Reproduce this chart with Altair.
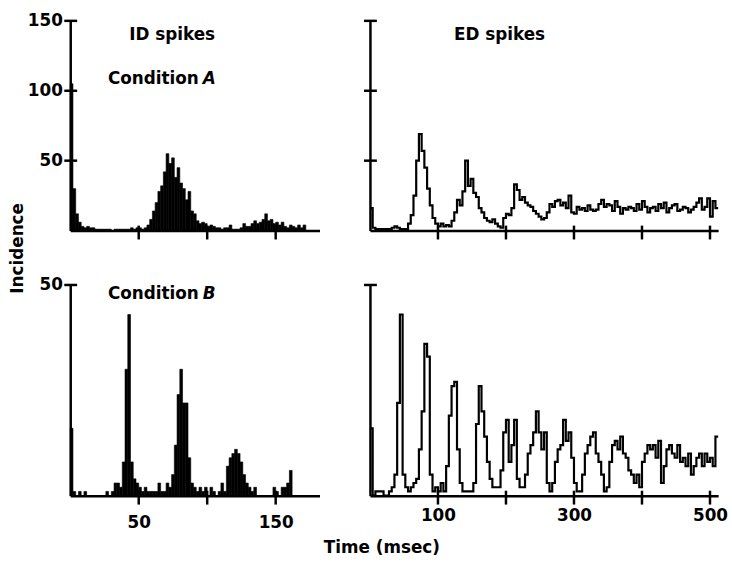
import altair as alt
import pandas as pd

FONT = "DejaVu Sans"

# ---- bin widths (msec) and axis ranges
ID_BIN = 2
ED_BIN = 4
ID_X_MAX = 182
ED_X_MAX = 512

# ---- ID spikes, condition A (2 ms bins from 0 ms)
id_a = [105, 30, 12, 6, 3, 2, 3, 2, 2, 1,
        1, 1, 1, 1, 1, 0, 1, 1, 1, 1,
        1, 1, 2, 1, 2, 2, 1, 2, 4, 8,
        14, 20, 28, 32, 42, 55, 48, 52, 38, 45,
        34, 30, 22, 28, 14, 12, 7, 5, 6, 5,
        3, 4, 3, 2, 2, 1, 2, 2, 4, 1,
        1, 1, 2, 5, 3, 3, 5, 7, 5, 6,
        8, 12, 7, 8, 5, 6, 4, 6, 3, 2,
        4, 3, 2, 4, 2, 4, 0]

# ---- ID spikes, condition B (2 ms bins from 0 ms)
id_b = [16, 1, 0, 1, 0, 1, 0, 0, 0, 0,
        0, 0, 0, 1, 0, 1, 3, 3, 2, 8,
        30, 43, 8, 4, 3, 2, 1, 2, 1, 1,
        1, 1, 3, 1, 1, 3, 2, 5, 12, 24,
        30, 22, 22, 9, 3, 2, 1, 2, 1, 2,
        0, 2, 1, 0, 1, 3, 1, 7, 9, 10,
        11, 10, 8, 5, 3, 2, 1, 2, 0, 0,
        0, 0, 0, 0, 2, 1, 0, 2, 2, 3,
        6, 0]

# ---- ED spikes, condition A (4 ms bins from 0 ms)
ed_a = [16, 2, 1, 1, 1, 1, 1, 1, 2, 3,
        2, 1, 1, 1, 5, 11, 25, 50, 69, 57,
        45, 30, 18, 9, 5, 3, 5, 3, 4, 3,
        7, 13, 22, 18, 28, 50, 32, 37, 27, 24,
        16, 13, 9, 7, 6, 8, 5, 3, 2, 9,
        12, 11, 16, 33, 29, 22, 24, 20, 18, 17,
        14, 12, 10, 8, 9, 13, 19, 17, 21, 22,
        18, 20, 16, 25, 13, 12, 17, 15, 16, 14,
        18, 15, 14, 15, 19, 22, 17, 19, 18, 14,
        21, 17, 12, 16, 15, 17, 16, 14, 19, 15,
        21, 17, 13, 16, 17, 14, 19, 16, 20, 13,
        16, 18, 19, 14, 15, 17, 16, 13, 15, 17,
        20, 23, 15, 17, 23, 10, 21, 16]

# ---- ED spikes, condition B (4 ms bins from 0 ms)
ed_b = [16, 0, 1, 1, 1, 0, 0, 1, 2, 5,
        22, 43, 5, 2, 1, 2, 3, 4, 11, 20,
        36, 33, 5, 1, 2, 1, 3, 1, 7, 19,
        26, 27, 11, 3, 1, 1, 1, 1, 3, 17,
        26, 20, 14, 8, 4, 2, 2, 2, 6, 15,
        18, 8, 12, 18, 4, 2, 2, 5, 10, 12,
        15, 20, 15, 11, 15, 3, 1, 3, 8, 11,
        12, 18, 13, 15, 9, 3, 1, 1, 5, 10,
        12, 14, 15, 10, 8, 5, 1, 2, 8, 12,
        13, 11, 14, 10, 9, 6, 5, 3, 5, 2,
        8, 10, 12, 11, 12, 9, 13, 3, 7, 11,
        12, 10, 9, 12, 8, 9, 7, 10, 5, 7,
        9, 10, 7, 10, 8, 9, 7, 14]

# ---- tick positions and labels
id_x_ticks = [50, 100, 150]
ed_x_ticks = [100, 200, 300, 400, 500]
id_x_labels = [50, 150]
ed_x_labels = [100, 300, 500]
y_ticks_a = [50, 100, 150]
y_ticks_b = [50]


def hist_df(vals, w):
    return pd.DataFrame({"start": [i * w for i in range(len(vals))],
                         "end": [(i + 1) * w for i in range(len(vals))],
                         "count": vals})


def line_df(vals, w):
    return pd.DataFrame({"t": [i * w for i in range(len(vals) + 1)],
                         "count": list(vals) + [vals[-1]]})


def txt(s, x, y, size=17, style="normal", align="center", angle=0):
    kw = dict(font=FONT, fontSize=size, fontWeight="bold", fontStyle=style,
              align=align, baseline="middle", color="black")
    if angle:
        kw["angle"] = angle
    return alt.Chart(pd.DataFrame({"d": [0]})).mark_text(**kw).encode(
        x=alt.value(x), y=alt.value(y), text=alt.value(s))


def panel(kind, vals, bw, xmax, ymax, xticks, yticks, xlabels, ylabel_on,
          width, height, texts, xlab_pad=8):
    xs = alt.Scale(domain=[0, xmax], nice=False, zero=False)
    ys = alt.Scale(domain=[0, ymax], nice=False, zero=False)
    common = dict(ticks=False, grid=False, title=None, domain=True,
                  domainColor="black", domainWidth=2.5, labelColor="black",
                  labelFont=FONT, labelFontSize=17, labelFontWeight="bold",
                  labelFlush=False)
    if xlabels:
        xa = alt.Axis(values=xlabels, labels=True, labelPadding=xlab_pad, **common)
    else:
        xa = alt.Axis(values=xticks, labels=False, **common)
    if ylabel_on:
        ya = alt.Axis(values=yticks, labels=True, labelPadding=8, **common)
    else:
        ya = alt.Axis(values=yticks, labels=False, **common)

    if kind == "bar":
        main = alt.Chart(hist_df(vals, bw)).mark_rect(
            color="black", stroke="black", strokeWidth=0.6).encode(
            x=alt.X("start:Q", scale=xs, axis=xa),
            x2="end:Q",
            y=alt.Y("count:Q", scale=ys, axis=ya),
            y2=alt.datum(0))
    else:
        main = alt.Chart(line_df(vals, bw)).mark_line(
            interpolate="step-after", color="black", strokeWidth=2.2).encode(
            x=alt.X("t:Q", scale=xs, axis=xa),
            y=alt.Y("count:Q", scale=ys, axis=ya))

    ytk = alt.Chart(pd.DataFrame({"v": yticks})).mark_rule(
        color="black", strokeWidth=2.5).encode(
        y=alt.Y("v:Q", scale=ys, axis=ya),
        x=alt.value(-6), x2=alt.value(7))
    xtk = alt.Chart(pd.DataFrame({"v": xticks})).mark_rule(
        color="black", strokeWidth=2.5).encode(
        x=alt.X("v:Q", scale=xs, axis=xa),
        y=alt.value(height - 5), y2=alt.value(height + 9))
    return alt.layer(main, ytk, xtk, *texts).properties(width=width, height=height)


tl = panel("bar", id_a, ID_BIN, ID_X_MAX, 150, id_x_ticks, y_ticks_a, [], True,
           252, 212,
           [txt("ID spikes", 103, 14),
            txt("Condition", 130, 59, align="right"),
            txt("A", 134, 59, style="italic", align="left")])
tr = panel("line", ed_a, ED_BIN, ED_X_MAX, 150, ed_x_ticks, y_ticks_a, [], False,
           352, 212,
           [txt("ED spikes", 131, 14)])
bl = panel("bar", id_b, ID_BIN, ID_X_MAX, 50, id_x_ticks, y_ticks_b, id_x_labels, True,
           252, 213,
           [txt("Condition", 130, 9, align="right"),
            txt("B", 134, 9, style="italic", align="left"),
            txt("Incidence", -53, -37, angle=270),
            txt("Time (msec)", 315, 266)],
           xlab_pad=19)
br = panel("line", ed_b, ED_BIN, ED_X_MAX, 50, ed_x_ticks, y_ticks_b, ed_x_labels, False,
           352, 213, [], xlab_pad=12)

chart = alt.concat(tl, tr, bl, br, columns=2,
                   spacing=alt.RowColnumber(row=55, column=51),
                   bounds="flush").properties(
    padding={"left": 8, "top": 8, "right": 4, "bottom": 4},
    background="white"
).configure_view(stroke="transparent")

chart.save("out.html", embed_options={"renderer": "svg", "actions": False})
